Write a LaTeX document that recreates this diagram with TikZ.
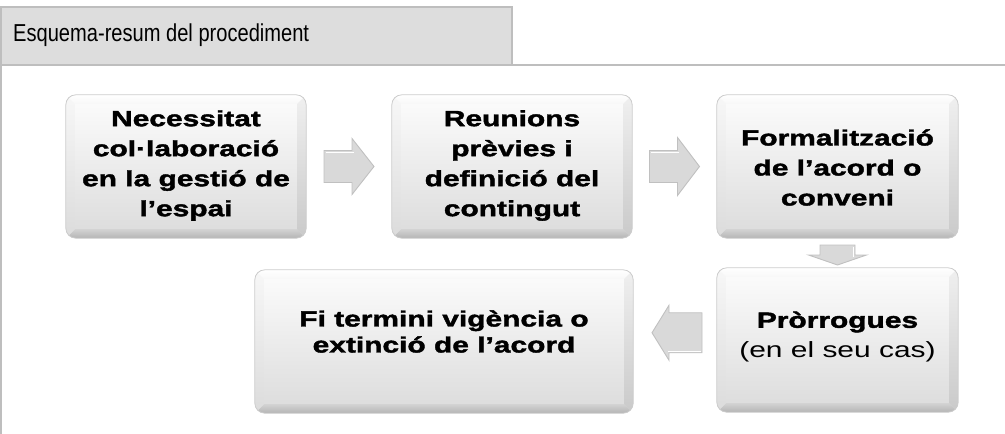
\documentclass[tikz,border=0pt]{standalone}
\usepackage{fontspec}
\setmainfont{Liberation Sans}
\newfontfamily\boxfont[FakeStretch=1.36, BoldFeatures={FakeBold=1.8}]{Liberation Sans}
\newfontfamily\hdrfont[FakeStretch=0.82]{Liberation Sans}
\usetikzlibrary{calc}
\definecolor{hdrfill}{HTML}{DDDDDD}
\definecolor{hdrline}{HTML}{BEBEBE}
\definecolor{arrfill}{HTML}{D9D9D9}
\definecolor{arrline}{HTML}{C0C0C0}
\tikzset{
  stepbox/.style={rounded corners=10pt, inner sep=0pt, align=center,
    top color=gray!2, bottom color=gray!28, draw=none},
  steptext/.style={inner sep=0pt, align=center,
    font=\boxfont\bfseries\fontsize{22}{30}\selectfont},
  arrowshape/.style={fill=arrfill, draw=arrline, line width=0.9pt, line join=miter},
}
% block arrow pointing along +x before rotation: #1 centre, #2 angle,
% #3 length, #4 head length, #5 half shaft width, #6 half head width
\newcommand\blockarr[6]{%
  \begin{scope}[shift={(#1)}, rotate=#2]
    \path[arrowshape] (-#3/2,-#5) -- (#3/2-#4,-#5) -- (#3/2-#4,-#6) -- (#3/2,0)
      -- (#3/2-#4,#6) -- (#3/2-#4,#5) -- (-#3/2,#5) -- cycle;
    \draw[white, line width=0.7pt] (-#3/2+1.5,-#5+1.5) -- (#3/2-#4+1.5,-#5+1.5);
  \end{scope}}
\newcommand\bevelbox[1]{%
  \begin{scope}
    \clip[rounded corners=10pt] (#1.north west) rectangle (#1.south east);
    \shade[top color=white, bottom color=gray!6]
      (#1.north west) -- (#1.north east) -- ([xshift=-9pt,yshift=-9pt]#1.north east)
      -- ([xshift=9pt,yshift=-9pt]#1.north west) -- cycle;
    \shade[top color=gray!35, bottom color=gray!58]
      (#1.south west) -- (#1.south east) -- ([xshift=-9pt,yshift=9pt]#1.south east)
      -- ([xshift=9pt,yshift=9pt]#1.south west) -- cycle;
    \shade[top color=gray!6, bottom color=gray!28]
      (#1.north west) -- ([xshift=9pt,yshift=-9pt]#1.north west)
      -- ([xshift=9pt,yshift=9pt]#1.south west) -- (#1.south west) -- cycle;
    \shade[top color=gray!12, bottom color=gray!42]
      (#1.north east) -- ([xshift=-9pt,yshift=-9pt]#1.north east)
      -- ([xshift=-9pt,yshift=9pt]#1.south east) -- (#1.south east) -- cycle;
  \end{scope}
  \draw[gray!40, line width=0.8pt, rounded corners=10pt]
    (#1.north west) rectangle (#1.south east);
}
\begin{document}
\begin{tikzpicture}[x=1pt, y=-1pt]
\useasboundingbox (0,0) rectangle (1005,434);
% header
\draw[hdrline, line width=1.5pt] (512,65) -- (1005,65);
\draw[hdrline, line width=1.5pt] (1,65) -- (1,434);
\node[draw=hdrline, fill=hdrfill, line width=1.5pt, inner sep=0pt,
      minimum width=511pt, minimum height=58pt] (hdr) at (256.5,36) {};
\node[anchor=base west, inner sep=0pt, font=\hdrfont\fontsize{24.5}{28}\selectfont]
  (title) at (13,41) {Esquema-resum del procediment};
% boxes
\node[stepbox, minimum width=240pt, minimum height=143pt] (b1) at (186,166.5) {};
\node[stepbox, minimum width=240pt, minimum height=143pt] (b2) at (512,166.5) {};
\node[stepbox, minimum width=241pt, minimum height=143pt] (b3) at (837.5,166.5) {};
\node[stepbox, minimum width=241pt, minimum height=144pt] (b4) at (837.5,340) {};
\node[stepbox, minimum width=378pt, minimum height=143pt] (b5) at (444,341.5) {};
\bevelbox{b1}\bevelbox{b2}\bevelbox{b3}\bevelbox{b4}\bevelbox{b5}
% texts
\node[steptext] (t1) at ($(b1.center)+(0,-1)$)
  {Necessitat\\col·laboració\\en la gestió de\\l’espai};
\node[steptext] (t2) at ($(b2.center)+(0,-1)$)
  {Reunions\\prèvies i\\definició del\\contingut};
\node[steptext] (t3) at ($(b3.center)+(0,1)$)
  {Formalització\\de l’acord o\\conveni};
\node[steptext] (t4) at ($(b4.center)+(0,-3)$)
  {Pròrrogues\\{\mdseries (en el seu cas)}};
\node[steptext, font=\boxfont\bfseries\fontsize{22}{26}\selectfont] (t5)
  at ($(b5.center)+(0,-10)$) {Fi termini vigència o\\extinció de l’acord};
% arrows between the steps
\coordinate (a1) at ($(b1.east)!0.5!(b2.west)$);
\coordinate (a2) at ($(b2.east)!0.5!(b3.west)$);
\coordinate (a3) at ($(b3.south)!0.5!(b4.north)+(0,2)$);
\coordinate (a4) at ($(b5.east)!0.5!(b4.west)+(2,-8)$);
\blockarr{a1}{0}{50}{22}{16}{28}
\blockarr{a2}{0}{50}{22}{16}{29}
\blockarr{a3}{270}{20}{10}{17.5}{29}
\blockarr{a4}{180}{50}{17}{20}{27.5}
\end{tikzpicture}
\end{document}
